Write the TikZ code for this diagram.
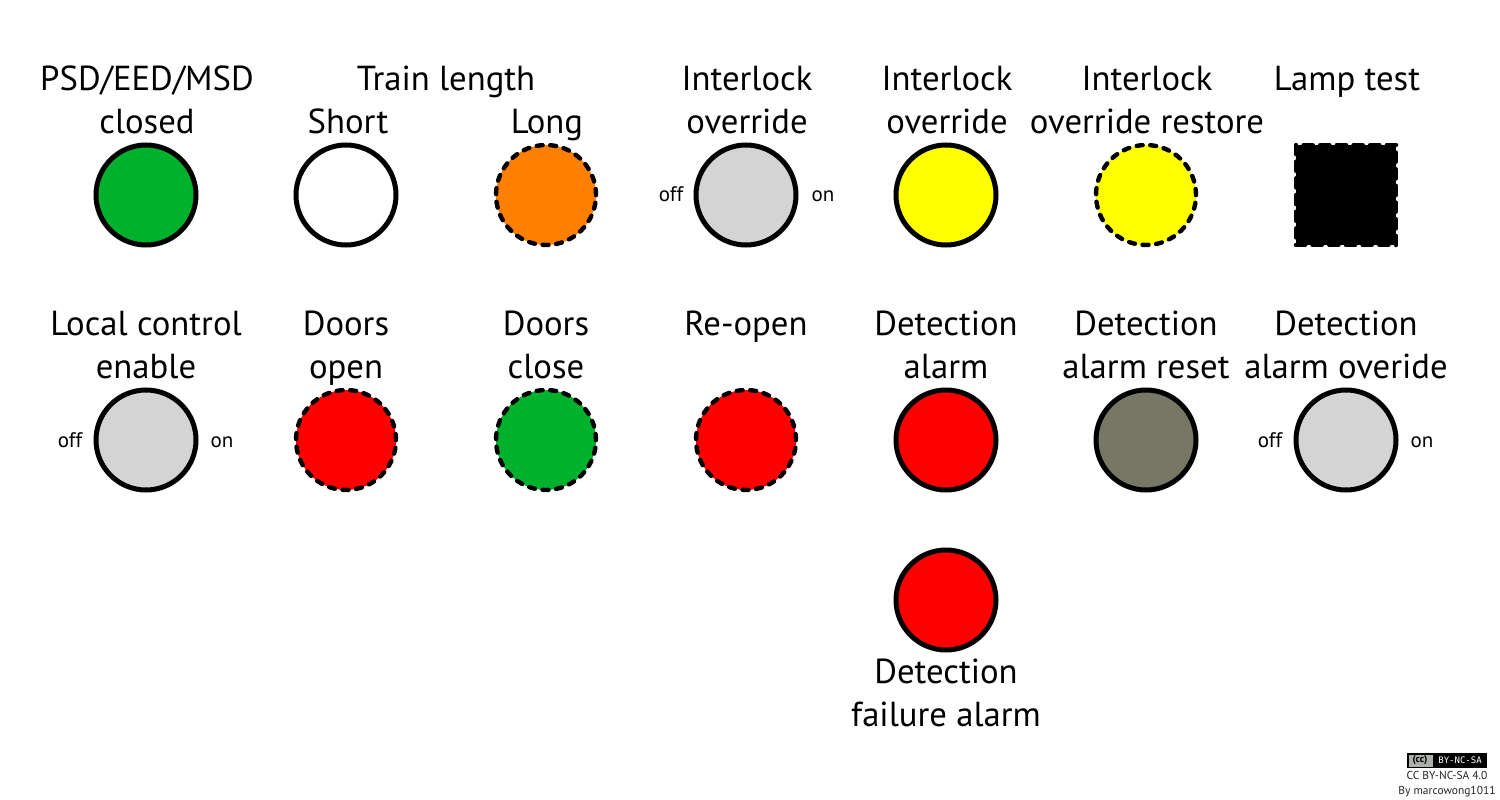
\documentclass[tikz,border=0pt]{standalone}
\usepackage{fontspec}
\setmainfont{PT Sans}
\newfontfamily\badgefont{DejaVu Sans Mono}
\definecolor{lgreen}{HTML}{00B12E}
\definecolor{lorange}{HTML}{FF8000}
\definecolor{lgrey}{HTML}{D4D4D4}
\definecolor{lyellow}{HTML}{FFFF00}
\definecolor{lred}{HTML}{FF0000}
\definecolor{lolive}{HTML}{767764}
\definecolor{ccgrey}{HTML}{AAB2AB}
\tikzset{
  x=1pt,y=-1pt,
  lamp/.style={circle,draw=black,line width=5pt,minimum size=100pt,inner sep=0pt,outer sep=0pt},
  blink/.style={lamp,line width=4.4pt,dash pattern=on 6pt off 7.65pt,line cap=round},
  lbl/.style={font=\fontsize{34.7}{43}\selectfont,align=center,inner sep=0pt,anchor=base,yshift=-1pt},
  sw/.style={font=\fontsize{21}{24}\selectfont,inner sep=0pt,anchor=base},
  cc/.style={font=\fontsize{11.5}{13}\selectfont,inner sep=0pt,anchor=base,text=black!85}
}
\begin{document}
\begin{tikzpicture}
\useasboundingbox (0,0) rectangle (1500,800);
\fill[white] (0,0) rectangle (1500,800);
% row 1 lamps
\node[lamp,fill=lgreen] (psd) at (146,195) {};
\node[lamp,fill=white] (short) at (346,195) {};
\node[blink,fill=lorange] (long) at (546,195) {};
\node[lamp,fill=lgrey] (ilsw) at (746,195) {};
\node[lamp,fill=lyellow] (il) at (946,195) {};
\node[blink,fill=lyellow] (ilr) at (1146,195) {};
\node[rectangle,draw=black,fill=black,line width=4.6pt,dash pattern=on 9pt off 7.67pt,line cap=round,minimum size=100pt,inner sep=0pt,outer sep=0pt] (lamptest) at (1346,195) {};
% row 2 lamps
\node[lamp,fill=lgrey] (local) at (146,440) {};
\node[blink,fill=lred] (dopen) at (346,440) {};
\node[blink,fill=lgreen] (dclose) at (546,440) {};
\node[blink,fill=lred] (reopen) at (746,440) {};
\node[lamp,fill=lred] (det) at (946,440) {};
\node[lamp,fill=lolive] (detr) at (1146,440) {};
\node[lamp,fill=lgrey] (deto) at (1346,440) {};
\node[lamp,fill=lred] (detf) at (946,600) {};
% row 1 labels
\node[lbl] (t1a) at (147,89) {PSD/EED/MSD};
\node[lbl] (t1b) at (147,132) {closed};
\node[lbl] (t2) at (446,89) {Train length};
\node[lbl] (t2a) at (348,132) {Short};
\node[lbl] (t2b) at (547,132) {Long};
\node[lbl] (t3a) at (747,89) {Interlock};
\node[lbl] (t3b) at (747,132) {override};
\node[lbl] (t4a) at (947,89) {Interlock};
\node[lbl] (t4b) at (947,132) {override};
\node[lbl] (t5a) at (1147,89) {Interlock};
\node[lbl] (t5b) at (1147,132) {override restore};
\node[lbl] (t6) at (1347,89) {Lamp test};
% row 2 labels
\node[lbl] (u1a) at (146,334) {Local control};
\node[lbl] (u1b) at (146,377) {enable};
\node[lbl] (u2a) at (346,334) {Doors};
\node[lbl] (u2b) at (346,377) {open};
\node[lbl] (u3a) at (546,334) {Doors};
\node[lbl] (u3b) at (546,377) {close};
\node[lbl] (u4) at (746,334) {Re-open};
\node[lbl] (u5a) at (946,334) {Detection};
\node[lbl] (u5b) at (946,377) {alarm};
\node[lbl] (u6a) at (1146,334) {Detection};
\node[lbl] (u6b) at (1146,377) {alarm reset};
\node[lbl] (u7a) at (1346,334) {Detection};
\node[lbl] (u7b) at (1346,377) {alarm overide};
\node[lbl] (v1) at (946,682) {Detection};
\node[lbl] (v2) at (946,725) {failure alarm};
% switch labels
\node[sw] (off1) at (671,201) {off};
\node[sw] (on1) at (823,201) {on};
\node[sw] (off2) at (70,447) {off};
\node[sw] (on2) at (222,447) {on};
\node[sw] (off3) at (1270,447) {off};
\node[sw] (on3) at (1422,447) {on};
% licence badge
\node[draw=black,fill=black,line width=0.8pt,minimum width=79pt,minimum height=14pt,inner sep=0pt] (badge) at (1447,760.5) {};
\fill[ccgrey] (1408.5,754.5) rectangle (1433,767);
\node[font=\fontsize{10}{10}\selectfont\bfseries,inner sep=0pt] (cclogo) at (1420,760) {(cc)};
\node[font=\badgefont\fontsize{9}{9}\selectfont,text=white,inner sep=0pt] (ccterms) at (1460,760.5) {BY-NC-SA};
\node[cc] (cc1) at (1447,779) {CC BY-NC-SA 4.0};
\node[cc] (cc2) at (1447,794) {By marcowong1011};
\end{tikzpicture}
\end{document}
